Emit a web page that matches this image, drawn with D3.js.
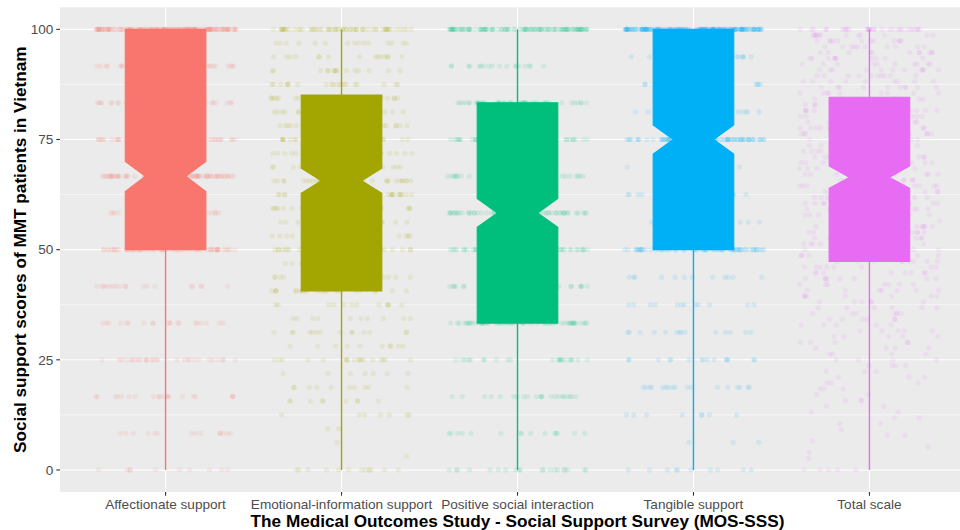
<!DOCTYPE html>
<html>
<head>
<meta charset="utf-8">
<script src="https://cdn.jsdelivr.net/npm/d3@7"></script>
<style>
  html, body { margin: 0; padding: 0; background: #ffffff; }
  svg { display: block; font-family: "Liberation Sans", Arial, Helvetica, sans-serif; }
</style>
</head>
<body>
<svg id="chart" width="960" height="530"></svg>
<script>
// MOS-SSS subscales
const categories = [
  "Affectionate support",
  "Emotional-information support",
  "Positive social interaction",
  "Tangible support",
  "Total scale"
];
const colors = ["#F8766D", "#A3A500", "#00BF7D", "#00B0F6", "#E76BF3"];

// Number of score steps between 0 and 100 for each subscale
const levelSteps = [12, 32, 12, 16, 76];

// Respondents at each score level, ascending from 0 to 100
const countsAffectionate = [10, 14, 20, 28, 20, 18, 60, 30, 80, 40, 35, 30, 150];
const countsEmotional = [12, 1, 1, 2, 7, 9, 10, 7, 18, 10, 14, 10, 12, 25, 12, 12, 25,
  16, 20, 20, 25, 40, 25, 20, 25, 20, 20, 30, 20, 15, 15, 15, 60];
const countsPositive = [20, 15, 22, 22, 60, 30, 45, 60, 45, 40, 45, 18, 110];
const countsTangible = [10, 3, 8, 17, 15, 14, 12, 12, 60, 15, 15, 12, 80, 12, 12, 12, 180];
const countsTotal = [
  5, 0, 1, 1, 1, 1, 2, 1, 2, 2, 2, 2, 3, 2, 3, 3, 3, 3, 4, 4, 4, 4, 5, 5, 5, 5, 6, 6, 6, 6, 7, 7, 7, 8, 8, 8,
  9, 8, 10, 9, 9, 8, 10, 9, 9, 10, 8, 9, 9, 10, 9,
  10, 9, 10, 11, 9, 10, 10, 9, 11, 10, 9, 10, 10, 9,
  9, 10, 9, 10, 11, 10, 10, 11, 10, 12, 12, 30
];
const countsBySubscale = [countsAffectionate, countsEmotional, countsPositive, countsTangible, countsTotal];

// Notched box summaries
const boxLower   = [0, 0, 0, 0, 0];
const boxQ1      = [50, 40.6, 33.33, 50, 47.3];
const notchLow   = [63.2, 62.8, 55.1, 71.7, 63.9];
const boxMedian  = [66.67, 65.63, 58.33, 75, 66.4];
const notchHigh  = [70.0, 68.5, 61.6, 78.3, 69.0];
const boxQ3      = [100, 85.1, 83.33, 100, 84.6];
const boxUpper   = [100, 100, 100, 100, 100];

const yTicks = [0, 25, 50, 75, 100];
const yMinor = [12.5, 37.5, 62.5, 87.5];

const svg = d3.select("#chart");
const panel = { left: 60, right: 975, top: 7.3, bottom: 492 };

const x = d3.scalePoint().domain(categories).range([panel.left, panel.right]).padding(0.6);
const step = x.step();
const y = d3.scaleLinear().domain([-5, 105]).range([panel.bottom, panel.top]);

// Panel background
svg.append("rect")
  .attr("x", panel.left).attr("y", panel.top)
  .attr("width", panel.right - panel.left).attr("height", panel.bottom - panel.top)
  .attr("fill", "#EBEBEB");

// Grid
svg.append("g").selectAll("line").data(yMinor).join("line")
  .attr("x1", panel.left).attr("x2", panel.right)
  .attr("y1", d => y(d)).attr("y2", d => y(d))
  .attr("stroke", "#ffffff").attr("stroke-width", 0.55);
svg.append("g").selectAll("line").data(yTicks).join("line")
  .attr("x1", panel.left).attr("x2", panel.right)
  .attr("y1", d => y(d)).attr("y2", d => y(d))
  .attr("stroke", "#ffffff").attr("stroke-width", 1.1);
svg.append("g").selectAll("line").data(categories).join("line")
  .attr("x1", d => x(d)).attr("x2", d => x(d))
  .attr("y1", panel.top).attr("y2", panel.bottom)
  .attr("stroke", "#ffffff").attr("stroke-width", 1.1);

// Jittered respondents (fixed seed so the layout is stable)
const jitter = d3.randomUniform.source(d3.randomLcg(0.4217))(-0.4, 0.4);
const points = [];
countsBySubscale.forEach((counts, ci) => {
  const nSteps = levelSteps[ci];
  counts.forEach((c, k) => {
    const value = k * 100 / nSteps;
    for (let i = 0; i < c; i++) {
      points.push({ cat: categories[ci], ci, value, dx: jitter() });
    }
  });
});

svg.append("g").selectAll("circle").data(points).join("circle")
  .attr("cx", d => x(d.cat) + d.dx * step)
  .attr("cy", d => y(d.value))
  .attr("r", 2.6)
  .attr("fill", d => colors[d.ci])
  .attr("fill-opacity", 0.11);

// Notched boxplots
const boxWidth = step * 0.458;
const boxes = categories.map((c, i) => ({
  cat: c, i,
  lower: boxLower[i], q1: boxQ1[i], nlo: notchLow[i], med: boxMedian[i],
  nhi: notchHigh[i], q3: boxQ3[i], upper: boxUpper[i]
}));

const bg = svg.append("g").selectAll("g").data(boxes).join("g");

bg.append("line")
  .attr("x1", d => x(d.cat)).attr("x2", d => x(d.cat))
  .attr("y1", d => y(d.q3)).attr("y2", d => y(d.upper))
  .attr("stroke", d => colors[d.i]).attr("stroke-width", 1.4);
bg.append("line")
  .attr("x1", d => x(d.cat)).attr("x2", d => x(d.cat))
  .attr("y1", d => y(d.q1)).attr("y2", d => y(d.lower))
  .attr("stroke", d => colors[d.i]).attr("stroke-width", 1.4);

bg.append("path")
  .attr("d", d => {
    const cx = x(d.cat);
    const l = cx - boxWidth / 2, r = cx + boxWidth / 2;
    const inset = boxWidth / 4;
    return d3.line()([
      [l, y(d.q3)], [r, y(d.q3)], [r, y(d.nhi)], [r - inset, y(d.med)],
      [r, y(d.nlo)], [r, y(d.q1)], [l, y(d.q1)], [l, y(d.nlo)],
      [l + inset, y(d.med)], [l, y(d.nhi)]
    ]) + "Z";
  })
  .attr("fill", d => colors[d.i])
  .attr("stroke", d => colors[d.i])
  .attr("stroke-width", 1.1)
  .attr("stroke-linejoin", "miter");

// Y axis
const yAxis = svg.append("g");
yAxis.selectAll("line").data(yTicks).join("line")
  .attr("x1", panel.left - 3.7).attr("x2", panel.left)
  .attr("y1", d => y(d)).attr("y2", d => y(d))
  .attr("stroke", "#333333").attr("stroke-width", 1.1);
yAxis.selectAll("text").data(yTicks).join("text")
  .attr("x", panel.left - 6.6)
  .attr("y", d => y(d))
  .attr("dy", "0.35em")
  .attr("text-anchor", "end")
  .attr("font-size", 13.6)
  .attr("fill", "#4D4D4D")
  .text(d => d);

// X axis
const xAxis = svg.append("g");
xAxis.selectAll("line").data(categories).join("line")
  .attr("x1", d => x(d)).attr("x2", d => x(d))
  .attr("y1", panel.bottom).attr("y2", panel.bottom + 3.7)
  .attr("stroke", "#333333").attr("stroke-width", 1.1);
xAxis.selectAll("text").data(categories).join("text")
  .attr("x", d => x(d))
  .attr("y", 509)
  .attr("text-anchor", "middle")
  .attr("font-size", 13.6)
  .attr("fill", "#4D4D4D")
  .text(d => d);

// Axis titles
svg.append("text")
  .attr("x", (panel.left + panel.right) / 2)
  .attr("y", 527)
  .attr("text-anchor", "middle")
  .attr("font-size", 17.2)
  .attr("font-weight", "bold")
  .attr("fill", "#000000")
  .text("The Medical Outcomes Study - Social Support Survey (MOS-SSS)");

svg.append("text")
  .attr("transform", `translate(26, ${(panel.top + panel.bottom) / 2}) rotate(-90)`)
  .attr("text-anchor", "middle")
  .attr("font-size", 17.2)
  .attr("font-weight", "bold")
  .attr("fill", "#000000")
  .text("Social support scores of MMT patients in Vietnam");
</script>
</body>
</html>
